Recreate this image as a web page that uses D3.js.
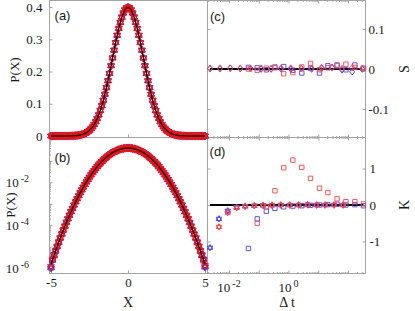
<!DOCTYPE html>
<html>
<head>
<meta charset="utf-8">
<script src="https://cdn.jsdelivr.net/npm/d3@7"></script>
<style>
body { margin: 0; background: #fff; }
</style>
</head>
<body>
<script>
// ---- data ----
// sample points of the two simulated series
var xData = [-5,-4.9,-4.8,-4.7,-4.6,-4.5,-4.4,-4.3,-4.2,-4.1,-4,-3.9,-3.8,-3.7,-3.6,-3.5,-3.4,-3.3,-3.2,-3.1,
  -3,-2.9,-2.8,-2.7,-2.6,-2.5,-2.4,-2.3,-2.2,-2.1,-2,-1.9,-1.8,-1.7,-1.6,-1.5,-1.4,-1.3,-1.2,-1.1,
  -1,-0.9,-0.8,-0.7,-0.6,-0.5,-0.4,-0.3,-0.2,-0.1,0,0.1,0.2,0.3,0.4,0.5,0.6,0.7,0.8,0.9,
  1,1.1,1.2,1.3,1.4,1.5,1.6,1.7,1.8,1.9,2,2.1,2.2,2.3,2.4,2.5,2.6,2.7,2.8,2.9,
  3,3.1,3.2,3.3,3.4,3.5,3.6,3.7,3.8,3.9,4,4.1,4.2,4.3,4.4,4.5,4.6,4.7,4.8,4.9,5];
var pRed = [1.2e-6,2.6e-6,3.7e-6,6.6e-6,1.05e-5,1.55e-5,2.6e-5,3.75e-5,6.1e-5,8.7e-5,1.30e-4,2.03e-4,2.98e-4,4.2e-4,6.0e-4,8.8e-4,1.26e-3,1.70e-3,2.35e-3,3.30e-3,
  4.5e-3,5.9e-3,7.8e-3,1.05e-2,1.38e-2,1.745e-2,2.22e-2,2.85e-2,3.58e-2,4.38e-2,5.37e-2,6.58e-2,7.93e-2,9.37e-2,0.1105,0.1299,0.1502,0.1710,0.1938,0.2183,
  0.2425,0.2657,0.2893,0.3128,0.3338,0.3516,0.3679,0.3818,0.3915,0.3966,0.3985,0.3974,0.3906,0.3810,0.3688,0.3525,0.3327,0.3119,0.2901,0.2665,
  0.2415,0.2175,0.1946,0.1718,0.1493,0.1291,0.1112,0.0943,0.0787,0.0653,0.0543,0.0442,0.0352,0.0281,0.0226,0.01765,0.0134,0.01050,8.05e-3,5.88e-3,
  4.36e-3,3.31e-3,2.42e-3,1.69e-3,1.21e-3,8.9e-4,6.25e-4,4.15e-4,2.85e-4,2.05e-4,1.37e-4,8.7e-5,5.7e-5,3.95e-5,2.6e-5,1.55e-5,0.98e-5,6.6e-6,4.2e-6,2.3e-6,1.3e-6];
var pBlue = [1.0e-6,2.3e-6,4.2e-6,6.1e-6,0.97e-5,1.68e-5,2.45e-5,4.0e-5,5.8e-5,9.2e-5,1.38e-4,1.95e-4,2.88e-4,4.35e-4,6.2e-4,8.6e-4,1.22e-3,1.75e-3,2.41e-3,3.22e-3,
  4.4e-3,6.02e-3,8.0e-3,1.035e-2,1.35e-2,1.76e-2,2.26e-2,2.81e-2,3.53e-2,4.43e-2,5.42e-2,6.53e-2,7.88e-2,9.44e-2,0.1112,0.1292,0.1494,0.1717,0.1945,0.2176,
  0.2418,0.2664,0.2900,0.3120,0.3329,0.3525,0.3686,0.3811,0.3908,0.3973,0.3992,0.3968,0.3912,0.3817,0.3680,0.3518,0.3335,0.3126,0.2894,0.2658,
  0.2423,0.2182,0.1939,0.1711,0.1500,0.1298,0.1106,0.0938,0.0792,0.0659,0.0538,0.0438,0.0357,0.0285,0.0222,0.01745,0.0137,0.01035,7.85e-3,6.0e-3,
  4.48e-3,3.22e-3,2.35e-3,1.76e-3,1.25e-3,8.55e-4,6.05e-4,4.3e-4,2.95e-4,1.93e-4,1.31e-4,9.2e-5,6.0e-5,3.75e-5,2.45e-5,1.66e-5,1.06e-5,6.1e-6,3.8e-6,2.6e-6,1.1e-6];

// black reference curve
var xLine = [-5,-4.8,-4.6,-4.4,-4.2,-4,-3.8,-3.6,-3.4,-3.2,-3,-2.8,-2.6,-2.4,-2.2,-2,-1.8,-1.6,-1.4,-1.2,-1,-0.8,-0.6,-0.4,-0.2,
  0,0.2,0.4,0.6,0.8,1,1.2,1.4,1.6,1.8,2,2.2,2.4,2.6,2.8,3,3.2,3.4,3.6,3.8,4,4.2,4.4,4.6,4.8,5];
var pLine = [1.49e-6,3.96e-6,1.01e-5,2.51e-5,5.89e-5,1.34e-4,2.91e-4,6.12e-4,1.23e-3,2.38e-3,4.43e-3,7.92e-3,1.36e-2,2.24e-2,3.55e-2,5.40e-2,7.90e-2,0.1109,0.1497,0.1942,0.2420,0.2897,0.3332,0.3683,0.3910,
  0.3989,0.3910,0.3683,0.3332,0.2897,0.2420,0.1942,0.1497,0.1109,7.90e-2,5.40e-2,3.55e-2,2.24e-2,1.36e-2,7.92e-3,4.43e-3,2.38e-3,1.23e-3,6.12e-4,2.91e-4,1.34e-4,5.89e-5,2.51e-5,1.01e-5,3.96e-6,1.49e-6];

// panel (c): skewness
var dtC = [0.0023,0.0050,0.011,0.024,0.053,0.12,0.26,0.56,1.2,2.7,6.0,13,29,63,138,302];
var sRedDia = [0.002,0.002,0.002,0.002,0.001,0.002,0.001,0.002,0.002,0.001,0.002,0.002,0.003,0.001,0.003,0.001];
var sBlueDia = [0.001,0.001,0.002,0.001,0.001,0,0,0.001,0,0.001,0,0.003,0.004,-0.002,-0.007,0];
var dtSq = [0.045,0.089,0.18,0.35,0.69,1.4,2.8,5.5,11,21,43,85,170,330];
var sBlueSq = [0.004,0.003,-0.002,0.005,0.006,-0.003,-0.01,0.002,-0.01,0.008,0.01,-0.002,0.01,0.002];
var sRedSq = [0,-0.003,0.002,0.003,-0.012,-0.009,0.005,0.014,-0.002,0.003,0.008,0.012,0.004,0];

// panel (d): kurtosis
var dtD = [0.0023,0.0046,0.0091,0.018,0.035,0.071,0.14,0.28,0.55,1.1,2.2,4.4,8.7,17,34,68];
var kBlueHex = [-1.17,-0.38,-0.16,-0.06,-0.03,-0.02,-0.01,-0.01,0,0,0,0.01,0,0,0,0];
var kRedHex = [null,-0.6,-0.21,-0.08,-0.04,-0.02,-0.01,0,0,0,0,0,0,0,0,0];
var kBlueSq = [-1.19,-0.38,-0.17,-0.09,-0.05,-0.03,-0.02,-0.01,0,0.01,0.02,0,0.01,-0.02];
var kRedSq = [null,-0.5,-0.05,0.39,1.02,1.23,1.03,0.73,0.46,0.34,0.17,0.09,0.09,0.03];

var ticksA = [0,0.1,0.2,0.3,0.4];
var ticksX = [-5,0,5];
var ticksC = [-0.1,0,0.1];
var ticksD = [-1,0,1];

var RED = '#ff0d0d', BLUE = '#2424ff', AXIS = '#a3a3a3', TXT = '#1a1a1a';
var RED2 = '#ff4545', BLUE2 = '#4545ff';   // thinner marks on the right

var svg = d3.select('body').append('svg')
  .attr('width', 415)
  .attr('height', 311)
  .style('font-family', '"Liberation Serif", "Times New Roman", serif');

// scales
var xX = d3.scaleLinear().domain([-5, 5]).range([51, 205]);
var yA = d3.scaleLinear().domain([0, 0.4]).range([136, 7]);
var yB = d3.scaleLog().domain([1e-6, 1]).range([268, 139.5]);
var xT0 = d3.scaleLog().domain([0.01, 1]).range([229, 288.5]);
var xT = d3.scaleLog().domain([xT0.invert(207), xT0.invert(365)]).range([207, 365]);
var yC = d3.scaleLinear().domain([-0.1, 0.1]).range([109, 29]);
var yD = d3.scaleLinear().domain([-1, 1]).range([241.5, 168.5]);

function hexagram(r) {
  var s = r * Math.sqrt(3) / 2;
  return 'M0,' + (-r) + 'L' + s + ',' + (r / 2) + 'L' + (-s) + ',' + (r / 2) + 'Z' +
         'M0,' + r + 'L' + s + ',' + (-r / 2) + 'L' + (-s) + ',' + (-r / 2) + 'Z';
}
var diamond = 'M0,-3.3L2.5,0L0,3.3L-2.5,0Z';
var square = 'M-2.2,-2.2H2.2V2.2H-2.2Z';

function markers(xs, ys, sx, sy, path, color, w) {
  var pts = xs.map(function(x, i) { return [x, ys[i]]; })
    .filter(function(d) { return d[1] !== null; });
  svg.append('g').selectAll('path')
    .data(pts)
    .enter()
    .append('path')
    .attr('transform', function(d) { return 'translate(' + sx(d[0]) + ',' + sy(d[1]) + ')'; })
    .attr('d', path)
    .attr('fill', 'none')
    .attr('stroke', color)
    .attr('stroke-width', w || 1);
}

function styleAxis(g) {
  g.select('.domain').remove();
  g.selectAll('line').attr('stroke', AXIS);
  g.selectAll('text').attr('fill', TXT).style('font-size', '13px')
    .style('font-family', '"Liberation Serif", serif');
}

// ---- frames ----
var frame = svg.append('g').attr('fill', 'none').attr('stroke', AXIS).attr('stroke-width', 1);
frame.append('rect').attr('x', 49.5).attr('y', 0.5).attr('width', 316).attr('height', 273);
frame.append('line').attr('x1', 207.5).attr('x2', 207.5).attr('y1', 0).attr('y2', 274);
frame.append('line').attr('x1', 49).attr('x2', 366).attr('y1', 137.5).attr('y2', 137.5);

// ---- axes of left panels ----
var fmt = function(d) { return String(d); };
svg.append('g').attr('transform', 'translate(49.5,0)')
  .call(d3.axisLeft(yA).tickValues(ticksA).tickSize(-3).tickPadding(7).tickFormat(fmt))
  .call(styleAxis);
svg.append('g').attr('transform', 'translate(0,137.5)')
  .call(d3.axisBottom(xX).tickValues(ticksX).tickSize(-3).tickFormat(''))
  .call(styleAxis);
svg.append('g').attr('transform', 'translate(0,273.5)')
  .call(d3.axisBottom(xX).tickValues(ticksX).tickSize(-3).tickPadding(4).tickFormat(fmt))
  .call(styleAxis);

// log y axis of (b)
var decadesB = [-6, -5, -4, -3, -2, -1, 0];
var minorB = [];
decadesB.forEach(function(e) {
  for (var m = 2; m <= 9; m++) { var v = m * Math.pow(10, e); if (v < 1.2) minorB.push(v); }
});
svg.append('g').attr('transform', 'translate(49.5,0)')
  .call(d3.axisLeft(yB).tickValues(decadesB.map(function(e) { return Math.pow(10, e); })).tickSize(-3).tickFormat(''))
  .call(styleAxis);
svg.append('g').attr('transform', 'translate(49.5,0)')
  .call(d3.axisLeft(yB).tickValues(minorB).tickSize(-1.5).tickFormat(''))
  .call(styleAxis);
[-6, -4, -2].forEach(function(e) {
  var t = svg.append('text')
    .attr('x', 29).attr('y', yB(Math.pow(10, e)) + 4.5)
    .attr('text-anchor', 'end').attr('fill', TXT).style('font-size', '13px');
  t.append('tspan').text('10');
  t.append('tspan').attr('dx', 2).attr('dy', -5).style('font-size', '10px').text(e);
});

// ---- axes of right panels ----
svg.append('g').attr('transform', 'translate(365.5,0)')
  .call(d3.axisRight(yC).tickValues(ticksC).tickSize(-3).tickPadding(3).tickFormat(fmt))
  .call(styleAxis);
svg.append('g').attr('transform', 'translate(207.5,0)')
  .call(d3.axisLeft(yC).tickValues(ticksC).tickSize(-3).tickFormat(''))
  .call(styleAxis);
svg.append('g').attr('transform', 'translate(365.5,0)')
  .call(d3.axisRight(yD).tickValues(ticksD).tickSize(-3).tickPadding(4).tickFormat(fmt))
  .call(styleAxis);
svg.append('g').attr('transform', 'translate(207.5,0)')
  .call(d3.axisLeft(yD).tickValues(ticksD).tickSize(-3).tickFormat(''))
  .call(styleAxis);

var majT = [], minT = [];
[-3, -2, -1, 0, 1, 2].forEach(function(e) {
  for (var m = 1; m <= 9; m++) {
    var v = m * Math.pow(10, e);
    if (xT(v) >= 207 && xT(v) <= 365) (m === 1 ? majT : minT).push(v);
  }
});
[[273.5, -1], [137.5, -1], [137.5, 1], [0.5, 1]].forEach(function(p) {
  var ax = p[1] < 0 ? d3.axisBottom : d3.axisTop;
  svg.append('g').attr('transform', 'translate(0,' + p[0] + ')')
    .call(ax(xT).tickValues(majT).tickSize(-3).tickFormat(''))
    .call(styleAxis);
  svg.append('g').attr('transform', 'translate(0,' + p[0] + ')')
    .call(ax(xT).tickValues(minT).tickSize(-1.5).tickFormat(''))
    .call(styleAxis);
});
[-2, 0].forEach(function(e) {
  var t = svg.append('text')
    .attr('x', xT(Math.pow(10, e))).attr('y', 292)
    .attr('text-anchor', 'middle').attr('fill', TXT).style('font-size', '13px');
  t.append('tspan').text('10');
  t.append('tspan').attr('dx', 2).attr('dy', -5).style('font-size', '10px').text(e);
});

// ---- data of (a) and (b) ----
var hexBig = hexagram(3.9);
markers(xData, pBlue, xX, yA, hexBig, BLUE, 1);
markers(xData, pRed, xX, yA, hexBig, RED, 1);
markers(xData, pBlue, xX, yB, hexBig, BLUE, 1);
markers(xData, pRed, xX, yB, hexBig, RED, 1);

var lineA = d3.line().x(function(d, i) { return xX(xLine[i]); }).y(function(d) { return yA(d); }).curve(d3.curveMonotoneX);
var lineB = d3.line().x(function(d, i) { return xX(xLine[i]); }).y(function(d) { return yB(d); }).curve(d3.curveMonotoneX);
svg.append('path').attr('d', lineA(pLine)).attr('fill', 'none').attr('stroke', '#000').attr('stroke-width', 1.4);
svg.append('path').attr('d', lineB(pLine)).attr('fill', 'none').attr('stroke', '#000').attr('stroke-width', 1.4);

// ---- data of (c) and (d) ----
svg.append('line')
  .attr('x1', xT(dtC[0])).attr('x2', xT(dtC[dtC.length - 1]))
  .attr('y1', yC(0)).attr('y2', yC(0))
  .attr('stroke', '#000').attr('stroke-width', 1.8);
svg.append('line')
  .attr('x1', xT(dtD[0])).attr('x2', xT(dtSq[dtSq.length - 1]))
  .attr('y1', yD(0)).attr('y2', yD(0))
  .attr('stroke', '#000').attr('stroke-width', 1.8);

markers(dtSq, sBlueSq, xT, yC, square, BLUE2, 0.9);
markers(dtSq, sRedSq, xT, yC, square, RED2, 0.9);
markers(dtC, sBlueDia, xT, yC, diamond, BLUE2);
markers(dtC, sRedDia, xT, yC, diamond, RED2);

markers(dtSq, kBlueSq, xT, yD, square, BLUE2, 0.9);
markers(dtSq, kRedSq, xT, yD, square, RED2, 0.9);
markers(dtD, kBlueHex, xT, yD, hexagram(3.2), BLUE2);
markers(dtD, kRedHex, xT, yD, hexagram(3.2), RED2);

// ---- labels ----
function label(txt, x, y, rot, size, family) {
  svg.append('text')
    .attr('transform', 'translate(' + x + ',' + y + ')' + (rot ? ' rotate(' + rot + ')' : ''))
    .attr('text-anchor', 'middle')
    .attr('dominant-baseline', 'central')
    .attr('fill', TXT)
    .style('font-size', size + 'px')
    .style('font-family', family || '"Liberation Serif", serif')
    .text(txt);
}
label('P(X)', 14, 70, -90, 13);
label('P(X)', 10, 205, -90, 13);
label('X', 128, 302, 0, 14);
label('\u0394 t', 287, 302, 0, 14);
label('S', 404, 69, -90, 14);
label('K', 404, 205, -90, 14);

var sans = '"Liberation Sans", Arial, sans-serif';
label('(a)', 62.5, 15, 0, 13, sans);
label('(b)', 62.5, 157, 0, 13, sans);
label('(c)', 217.5, 16, 0, 13, sans);
label('(d)', 217.5, 151, 0, 13, sans);
</script>
</body>
</html>
